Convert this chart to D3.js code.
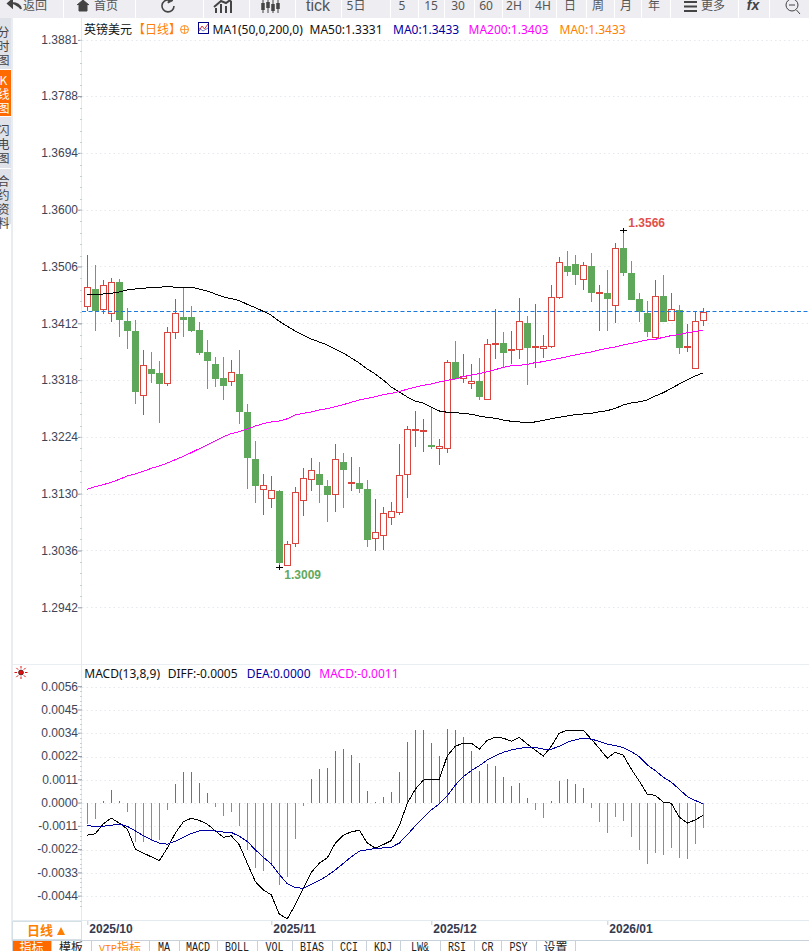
<!DOCTYPE html>
<html><head><meta charset="utf-8">
<script src="https://cdn.jsdelivr.net/npm/d3@7/dist/d3.min.js"></script>
<style>
html,body{margin:0;padding:0;background:#fff;overflow:hidden}
svg{display:block;position:absolute;left:0;top:0}
text{font-family:"Noto Sans","Noto Sans CJK SC","Liberation Sans",sans-serif}
.num text,text.num{font-family:"Liberation Sans",Arial,sans-serif}
</style></head><body><svg id="c" width="809" height="951"></svg>
<script>
const open=[1.34412,1.34682,1.34351,1.34285,1.34798,1.34158,1.33993,1.32928,1.33358,1.33292,
1.33127,1.33971,1.34225,1.34225,1.34009,1.33645,1.33447,1.33215,1.33171,1.33281,
1.32652,1.31874,1.31372,1.31223,1.31345,1.30114,1.30479,1.31190,1.31538,1.31626,
1.31428,1.31290,1.31825,1.31483,1.31477,1.31378,1.30561,1.30611,1.30909,1.30992,
1.31621,1.32360,1.32343,1.32106,1.32051,1.32051,1.33474,1.33209,1.33127,1.33160,
1.32862,1.33783,1.33789,1.33673,1.33689,1.34120,1.33723,1.33706,1.33739,1.34550,
1.35063,1.35102,1.34848,1.35069,1.34627,1.34622,1.34418,1.35367,1.34953,1.34522,
1.34291,1.33899,1.34572,1.34169,1.34340,1.33723,1.33375,1.34169];
const close=[1.34716,1.34346,1.34749,1.34798,1.34197,1.34015,1.33005,1.33425,1.33298,1.33138,
1.33971,1.34285,1.34197,1.34015,1.33651,1.33518,1.33221,1.33105,1.33309,1.32674,
1.31913,1.31450,1.31439,1.31356,1.30175,1.30462,1.31323,1.31554,1.31687,1.31466,
1.31301,1.31869,1.31714,1.31494,1.31400,1.30556,1.30661,1.30975,1.31008,1.31604,
1.32365,1.32371,1.32354,1.32095,1.32084,1.33474,1.33220,1.33243,1.33160,1.32923,
1.33772,1.33794,1.33651,1.33689,1.34153,1.33734,1.33750,1.33739,1.34550,1.35129,
1.34991,1.34942,1.35080,1.34644,1.34638,1.34545,1.35361,1.34975,1.34528,1.34329,
1.33998,1.34567,1.34164,1.34351,1.33734,1.33739,1.34153,1.34302];
const high=[1.35251,1.35085,1.34837,1.34870,1.34854,1.34368,1.34175,1.33678,1.33645,1.33491,
1.34054,1.34517,1.34710,1.34407,1.34136,1.33844,1.33563,1.33563,1.33507,1.33678,
1.32785,1.32172,1.31626,1.31593,1.31361,1.30517,1.31411,1.31725,1.31891,1.31825,
1.31527,1.32123,1.31974,1.31908,1.31742,1.31527,1.31212,1.31080,1.31163,1.32123,
1.32421,1.32669,1.32537,1.32730,1.32200,1.33513,1.33827,1.33612,1.33447,1.33546,
1.33855,1.34351,1.33976,1.33993,1.34534,1.34236,1.34440,1.33921,1.34754,1.35212,
1.35317,1.35251,1.35129,1.35284,1.34754,1.35002,1.35444,1.35660,1.35151,1.34622,
1.34489,1.34837,1.34920,1.34622,1.34423,1.34109,1.34313,1.34368];
const low=[1.34324,1.33998,1.34274,1.34147,1.33899,1.33700,1.32790,1.32608,1.33138,1.32476,
1.33088,1.33866,1.33899,1.33982,1.33596,1.33038,1.33072,1.32856,1.33088,1.32459,
1.31383,1.31152,1.30953,1.31069,1.30090,1.30114,1.30423,1.30937,1.31345,1.31152,
1.30837,1.31003,1.31069,1.31350,1.31317,1.30423,1.30357,1.30374,1.30788,1.30953,
1.31235,1.32079,1.31996,1.32040,1.31781,1.31979,1.33200,1.33138,1.33038,1.32851,
1.32862,1.33529,1.33403,1.33447,1.33529,1.33105,1.33386,1.33546,1.33717,1.34528,
1.34909,1.34760,1.34677,1.34478,1.33998,1.33998,1.34125,1.34909,1.34528,1.34147,
1.33894,1.33899,1.34164,1.34169,1.33612,1.33651,1.33375,1.34076];
const ma50=[1.34600,1.34589,1.34605,1.34616,1.34638,1.34671,1.34688,1.34699,1.34716,1.34716,
1.34732,1.34716,1.34716,1.34716,1.34688,1.34655,1.34605,1.34556,1.34528,1.34495,
1.34434,1.34379,1.34318,1.34252,1.34153,1.34070,1.33993,1.33926,1.33860,1.33811,
1.33761,1.33695,1.33628,1.33546,1.33463,1.33364,1.33281,1.33182,1.33066,1.32983,
1.32900,1.32834,1.32801,1.32735,1.32669,1.32647,1.32640,1.32630,1.32614,1.32586,
1.32564,1.32548,1.32520,1.32498,1.32487,1.32482,1.32487,1.32515,1.32541,1.32564,
1.32586,1.32607,1.32619,1.32630,1.32657,1.32674,1.32713,1.32768,1.32801,1.32822,
1.32851,1.32917,1.32971,1.33044,1.33115,1.33182,1.33248,1.33300];
const ma200=[1.31372,1.31416,1.31450,1.31488,1.31538,1.31593,1.31626,1.31670,1.31720,1.31758,
1.31808,1.31863,1.31918,1.31979,1.32045,1.32106,1.32172,1.32244,1.32294,1.32327,
1.32371,1.32420,1.32459,1.32487,1.32503,1.32540,1.32603,1.32630,1.32652,1.32685,
1.32708,1.32741,1.32774,1.32812,1.32851,1.32879,1.32906,1.32939,1.32961,1.32994,
1.33028,1.33061,1.33094,1.33116,1.33149,1.33176,1.33198,1.33237,1.33265,1.33287,
1.33320,1.33353,1.33391,1.33419,1.33425,1.33441,1.33469,1.33485,1.33513,1.33540,
1.33568,1.33596,1.33623,1.33645,1.33678,1.33706,1.33728,1.33761,1.33789,1.33816,
1.33844,1.33855,1.33888,1.33916,1.33932,1.33965,1.33982,1.34009];
const macdHist=[-.00099,-.00074,.00011,.00064,.00011,-.00042,-.00189,-.00189,-.00184,-.00176,
-.00035,.00093,.00151,.00151,.00098,.00050,-.00018,-.00061,-.00042,-.00109,
-.00223,-.00314,-.00324,-.00300,-.00396,-.00357,-.00170,-.00013,.00117,.00165,
.00170,.00252,.00261,.00232,.00194,.00059,.00006,.00030,.00055,.00151,
.00295,.00353,.00353,.00290,.00228,.00357,.00353,.00319,.00252,.00155,
.00189,.00180,.00127,.00083,.00098,.00026,-.00032,-.00071,.00011,.00107,
.00117,.00093,.00074,-.00022,-.00090,-.00143,-.00066,-.00085,-.00162,-.00224,
-.00292,-.00239,-.00248,-.00215,-.00263,-.00268,-.00196,-.00119];
const diff=[-.00154,-.00147,-.00099,-.00072,-.00096,-.00125,-.00220,-.00240,-.00258,-.00277,
-.00216,-.00144,-.00090,-.00072,-.00083,-.00101,-.00133,-.00164,-.00157,-.00200,
-.00289,-.00377,-.00417,-.00441,-.00534,-.00556,-.00489,-.00409,-.00333,-.00289,
-.00263,-.00192,-.00154,-.00138,-.00130,-.00192,-.00216,-.00199,-.00180,-.00109,
0,.00067,.00111,.00115,.00115,.00228,.00274,.00289,.00289,.00260,
.00303,.00317,.00313,.00298,.00317,.00284,.00255,.00226,.00274,.00337,
.00351,.00351,.00351,.00308,.00264,.00216,.00245,.00231,.00164,.00106,
.00043,.00038,.00005,0,-.00067,-.00096,-.00080,-.00058];
const dea=[-.00106,-.00114,-.00111,-.00106,-.00101,-.00111,-.00133,-.00157,-.00176,-.00192,
-.00197,-.00183,-.00164,-.00146,-.00133,-.00130,-.00133,-.00139,-.00141,-.00159,
-.00184,-.00224,-.00260,-.00292,-.00343,-.00388,-.00407,-.00409,-.00390,-.00372,
-.00349,-.00321,-.00290,-.00258,-.00231,-.00224,-.00218,-.00215,-.00212,-.00192,
-.00152,-.00109,-.00069,-.00032,-.00003,.00035,.00087,.00128,.00157,.00180,
.00208,.00228,.00245,.00256,.00264,.00269,.00269,.00260,.00260,.00274,
.00293,.00305,.00313,.00308,.00298,.00284,.00277,.00268,.00248,.00224,
.00184,.00157,.00125,.00101,.00067,.00032,.00013,-.00003];
const priceTicks=[1.3881,1.3788,1.3694,1.36,1.3506,1.3412,1.3318,1.3224,1.313,1.3036,1.2942];
const macdTickValues=[.0056,.00448,.00336,.00224,.00112,0,-.00112,-.00224,-.00336,-.00448];
const macdTickLabels=["0.0056","0.0045","0.0034","0.0022","0.0011","0.0000","-0.0011","-0.0022","-0.0033","-0.0044"];
const monthIndex=[0,23,43,65];
const monthLabels=["2025/10","2025/11","2025/12","2026/01"];
const lastPrice=1.3433, highLabel="1.3566", lowLabel="1.3009";

const RED="#d9443f",GREEN="#5fa85b",N=close.length;
const svg=d3.select("#c");
const x=d3.scaleLinear().domain([0,N-1]).range([87.3,703.3]);
const y=d3.scaleLinear().domain([1.3881,1.2942]).range([39.9,607.3]);
const ym=d3.scaleLinear().domain([.0056,-.00448]).range([686.8,896.3]);
const px=i=>Math.round(x(i)-.5)+.5;

// page frame
svg.append("rect").attr("width",809).attr("height",18).attr("fill","#ededf2");
svg.append("line").attr("x1",12).attr("x2",12).attr("y1",18).attr("y2",941).attr("stroke","#d3dbe3");
svg.append("line").attr("x1",12).attr("x2",809).attr("y1",664.5).attr("y2",664.5).attr("stroke","#e9eef2");
svg.append("line").attr("x1",81.5).attr("x2",81.5).attr("y1",18).attr("y2",921).attr("stroke","#e2ebee");
svg.append("line").attr("x1",12).attr("x2",809).attr("y1",920.5).attr("y2",920.5).attr("stroke","#e3ebf0");

// toolbar
const seps=[63,135,203,249,295,341,390,418,444,474,502,529,556,586,614,641,670,738,769];
svg.append("g").selectAll("line").data(seps).join("line").attr("x1",d=>d+.5).attr("x2",d=>d+.5).attr("y1",0).attr("y2",18).attr("stroke","#fff");
const toolText=[["返回",35],["首页",106],["5日",356],["5",402],["15",431],["30",458],["60",486],["2H",514],["4H",543],["日",570],["周",598],["月",626],["年",654],["更多",713]];
svg.append("g").selectAll("text").data(toolText).join("text").attr("x",d=>d[1]).attr("y",9.5).attr("text-anchor","middle")
 .attr("font-size",12).attr("fill","#555").text(d=>d[0]);
svg.append("text").attr("x",318).attr("y",11).attr("text-anchor","middle").attr("font-size",16).attr("fill","#555").attr("class","num").text("tick");
const ic=svg.append("g").attr("fill","none").attr("stroke","#444");
ic.append("path").attr("d","M21 9 C20 5 17 3 12 3 M12 0 L8 3.5 L12 7 Z").attr("stroke-width",2).attr("fill","#444");
ic.append("path").attr("d","M77 5 L83 0 L89 5 M79 5 V11 H87 V5 Z").attr("fill","#444").attr("stroke-width",1);
ic.append("path").attr("d","M174 6 A6 6 0 1 1 169 0").attr("stroke-width",1.6);
ic.append("path").attr("d","M169 -3 L173 0.5 L168 3 Z").attr("fill","#444");
ic.append("path").attr("d","M216 13 V8 M221 13 V4 M226 13 V6 M231 13 V1 M214 7 L221 1 L226 3 L233 -2").attr("stroke-width",2);
ic.append("path").attr("d","M263 0 V13 M268 0 V13 M273 0 V13 M278 0 V13").attr("stroke-width",1);
ic.append("path").attr("d","M263 3 V10 M268 2 V8 M273 4 V11 M278 3 V9").attr("stroke-width",3.5);
ic.append("path").attr("d","M684 2 H697 M684 6.5 H697 M684 11 H697").attr("stroke-width",2);
svg.append("text").attr("x",753).attr("y",10).attr("text-anchor","middle").attr("font-size",14).attr("font-weight","bold").attr("font-style","italic").attr("fill","#444").attr("class","num").text("fx");
ic.append("circle").attr("cx",792).attr("cy",5).attr("r",6).attr("stroke-width",1);
ic.append("path").attr("d","M789 5 H795 M796.5 10 L800 14").attr("stroke-width",1);

// side tabs
const sideTabs=[{t:"分时图",y0:18,y1:69,c:"#e0e2ea",f:"#444",s:26},{t:"K线图",y0:70,y1:116,c:"#ff6a00",f:"#fff",s:74},{t:"闪电图",y0:117,y1:168,c:"#e0e2ea",f:"#444",s:124},{t:"合约资料",y0:169,y1:224,c:"#e0e2ea",f:"#444",s:175}];
sideTabs.forEach(d=>{
  svg.append("rect").attr("x",0).attr("y",d.y0).attr("width",11).attr("height",d.y1-d.y0).attr("fill",d.c);
  svg.append("text").attr("x",3.5).attr("y",d.s).attr("font-size",12).attr("fill",d.f)
   .style("writing-mode","vertical-rl").style("text-orientation","upright").style("letter-spacing","2px")
   .style("font-family",'"Noto Sans CJK SC",sans-serif').text(d.t);
});

// grids
const gridG=svg.append("g").attr("stroke","#e6e9ed").attr("stroke-dasharray","1.5 3");
gridG.selectAll("line.p").data(priceTicks).join("line").attr("class","p").attr("x1",82).attr("x2",809).attr("y1",d=>Math.round(y(d))+.5).attr("y2",d=>Math.round(y(d))+.5);
gridG.selectAll("line.m").data(macdTickValues).join("line").attr("class","m").attr("x1",82).attr("x2",809).attr("y1",d=>Math.round(ym(d))+.5).attr("y2",d=>Math.round(ym(d))+.5);

// axes
function styleAxis(g){g.select(".domain").remove();
 g.selectAll("line").attr("stroke","#8f98a8");
 g.selectAll("text").attr("font-size",12).attr("fill","#3e4456");}
svg.append("g").attr("class","num").attr("transform","translate(82,0)")
 .call(d3.axisLeft(y).tickValues(priceTicks).tickSize(4).tickPadding(0).tickFormat(d3.format(".4f"))).call(styleAxis);
svg.append("g").attr("class","num").attr("transform","translate(82,-0.6)")
 .call(d3.axisLeft(ym).tickValues(macdTickValues).tickSize(4).tickPadding(0).tickFormat((d,i)=>macdTickLabels[i])).call(styleAxis);
const minorP=d3.range(y.domain()[0],y.domain()[1],-(y.domain()[0]-y.domain()[1])/50);
const minorM=d3.range(.0056,-.0051,-.000224);
svg.append("g").attr("stroke","#c5d0d6").selectAll("line").data(minorP).join("line").attr("x1",80).attr("x2",82).attr("y1",d=>Math.round(y(d))+.5).attr("y2",d=>Math.round(y(d))+.5);
svg.append("g").attr("stroke","#c5d0d6").selectAll("line").data(minorM).join("line").attr("x1",80).attr("x2",82).attr("y1",d=>Math.round(ym(d))+.5).attr("y2",d=>Math.round(ym(d))+.5);

// time axis
const xa=svg.append("g").attr("class","num").attr("transform","translate(0,921)")
 .call(d3.axisBottom(x).tickValues(monthIndex).tickSize(4).tickPadding(0).tickFormat((d,i)=>monthLabels[i]));
xa.select(".domain").remove();
xa.selectAll("line").attr("stroke","#c3ced6");
xa.selectAll("text").attr("font-size",12).attr("font-weight","bold").attr("fill","#333a50").attr("text-anchor","start").attr("dx",1.5).attr("y",-1).attr("dy",13);

// candles
const cg=svg.append("g").attr("shape-rendering","crispEdges");
const idx=d3.range(N);
cg.selectAll("line").data(idx).join("line").attr("x1",px).attr("x2",px).attr("y1",i=>y(high[i])).attr("y2",i=>y(low[i]))
 .attr("stroke",i=>close[i]>=open[i]?RED:GREEN);
cg.selectAll("rect").data(idx).join("rect")
 .attr("x",i=>px(i)-3).attr("width",6)
 .attr("y",i=>Math.round(y(Math.max(open[i],close[i])))+.5)
 .attr("height",i=>Math.max(1,Math.round(y(Math.min(open[i],close[i])))-Math.round(y(Math.max(open[i],close[i])))))
 .attr("fill",i=>close[i]>=open[i]?"#fff":GREEN)
 .attr("stroke",i=>close[i]>=open[i]?RED:GREEN);

// last price line
svg.append("line").attr("x1",82).attr("x2",809).attr("y1",Math.round(y(lastPrice))+.5).attr("y2",Math.round(y(lastPrice))+.5)
 .attr("stroke","#1a7ae0").attr("stroke-dasharray","4 2.5");

// MAs
const line=d3.line().x((d,i)=>x(i));
svg.append("path").attr("fill","none").attr("stroke","#000").attr("shape-rendering","crispEdges").attr("d",line.y(d=>y(d))(ma50));
svg.append("path").attr("fill","none").attr("stroke","#ff00ff").attr("shape-rendering","crispEdges").attr("d",line.y(d=>y(d))(ma200));

// extreme labels
const iHi=high.indexOf(d3.max(high)),iLo=low.indexOf(d3.min(low));
const cross=svg.append("g").attr("stroke","#000");
[[iHi,high[iHi]],[iLo,low[iLo]]].forEach(([i,v])=>{
 const yy=Math.round(y(v))+.5;
 cross.append("line").attr("x1",px(i)-3.5).attr("x2",px(i)+3.5).attr("y1",yy).attr("y2",yy);
 cross.append("line").attr("x1",px(i)).attr("x2",px(i)).attr("y1",yy-2.5).attr("y2",yy+2.5);
});
svg.append("text").attr("class","num").attr("x",x(iHi)+5).attr("y",y(high[iHi])-3).attr("font-size",12).attr("font-weight","bold").attr("fill","#e0504c").text(highLabel);
svg.append("text").attr("class","num").attr("x",x(iLo)+5).attr("y",y(low[iLo])+12).attr("font-size",12).attr("font-weight","bold").attr("fill","#62a85e").text(lowLabel);

// title row
function row(items,yy){svg.append("g").selectAll("text").data(items).join("text").attr("x",d=>d[1]).attr("y",yy).attr("font-size",12).attr("fill",d=>d[2]).text(d=>d[0]);}
row([["英镑美元",84,"#111"],["【日线】",133,"#ff7f00"],["MA1(50,0,200,0)",212.5,"#111"],["MA50:1.3331",309.5,"#111"],["MA0:1.3433",393,"#0000a0"],["MA200:1.3403",468.5,"#ff00ff"],["MA0:1.3433",559.5,"#ff8000"]],33.5);
svg.append("circle").attr("cx",184.5).attr("cy",29.5).attr("r",4).attr("fill","none").attr("stroke","#ff8a1e");
svg.append("path").attr("d","M180.5 29.5 H188.5 M184.5 25.5 V33.5").attr("stroke","#ff8a1e").attr("stroke-width",.8);
svg.append("rect").attr("x",198.5).attr("y",22.5).attr("width",10).attr("height",11).attr("fill","#fff").attr("stroke","#00008b");
svg.append("path").attr("d","M199 31 L202 26 L204.5 29 L208 24").attr("fill","none").attr("stroke","#e03030");
svg.append("path").attr("d","M199 28 L203 31 L208 28").attr("fill","none").attr("stroke","#3050c0").attr("stroke-width",.7);

// MACD title
row([["MACD(13,8,9)",84.3,"#111"],["DIFF:-0.0005",167.7,"#111"],["DEA:0.0000",246.7,"#0000a0"],["MACD:-0.0011",319.3,"#ff00ff"]],678);
const gear=svg.append("g").attr("transform","translate(21,672.5)");
gear.append("circle").attr("r",2.5).attr("fill","#e01010").attr("stroke","#111").attr("stroke-width",.6);
gear.selectAll("line").data(d3.range(8)).join("line").attr("x1",d=>4*Math.cos(d*Math.PI/4)).attr("y1",d=>4*Math.sin(d*Math.PI/4)).attr("x2",d=>6.5*Math.cos(d*Math.PI/4)).attr("y2",d=>6.5*Math.sin(d*Math.PI/4)).attr("stroke","#e01010");

// MACD bars + lines
svg.append("g").attr("shape-rendering","crispEdges").selectAll("line").data(macdHist).join("line")
 .attr("x1",(d,i)=>px(i)).attr("x2",(d,i)=>px(i)).attr("y1",ym(0)).attr("y2",d=>ym(d))
 .attr("stroke",d=>d>=0?"#c4504c":"#6aa663");
svg.append("path").attr("fill","none").attr("stroke","#000").attr("shape-rendering","crispEdges").attr("d",line.y(d=>ym(d))(diff));
svg.append("path").attr("fill","none").attr("stroke","#0000a0").attr("shape-rendering","crispEdges").attr("d",line.y(d=>ym(d))(dea));

// period box
svg.append("rect").attr("x",12.5).attr("y",921.5).attr("width",69).attr("height",18).attr("fill","#fff").attr("stroke","#d5dfe6");
svg.append("text").attr("x",27).attr("y",935).attr("font-size",13).attr("font-weight","bold").attr("fill","#ff7f00").text("日线");
svg.append("path").attr("d","M57 935 L65 935 L61 927 Z").attr("fill","#ff7f00");

// bottom tabs
const tabNames=["指标","模板","VTP指标","MA","MACD","BOLL","VOL","BIAS","CCI","KDJ","LW&","RSI","CR","PSY","设置"];
const tabEdges=[12,51,91,149,179,217,257,292,332,366,400,440,474,501,536,575];
svg.append("line").attr("x1",12).attr("x2",809).attr("y1",940.5).attr("y2",940.5).attr("stroke","#c9d2da");
svg.append("rect").attr("x",12).attr("y",941).attr("width",39).attr("height",10).attr("fill","#ff6a00");
svg.append("g").selectAll("line").data(tabEdges).join("line").attr("x1",d=>d+.5).attr("x2",d=>d+.5).attr("y1",941).attr("y2",951).attr("stroke","#c9d2da");
svg.append("g").selectAll("text").data(tabNames).join("text").each(function(d,i){
  const t=d3.select(this).attr("x",(tabEdges[i]+tabEdges[i+1])/2).attr("y",952).attr("text-anchor","middle")
   .attr("fill",i===0?"#fff":i===2?"#ff7f00":"#222");
  if(/^[\x00-\x7f]+$/.test(d)){
    t.attr("y",951).attr("font-size",12).style("font-family",'"Liberation Mono",monospace')
     .attr("textLength",d.length*6).attr("lengthAdjust","spacingAndGlyphs").text(d);
  } else {
    t.style("font-family",'"Noto Sans CJK SC",sans-serif').attr("font-size",12);
    const m=d.match(/^([\x00-\x7f]*)(.*)$/);
    if(m[1]) t.append("tspan").attr("font-size",10).style("font-family",'"Liberation Mono",monospace').text(m[1]);
    t.append("tspan").text(m[2]);
  }
});
</script></body></html>
